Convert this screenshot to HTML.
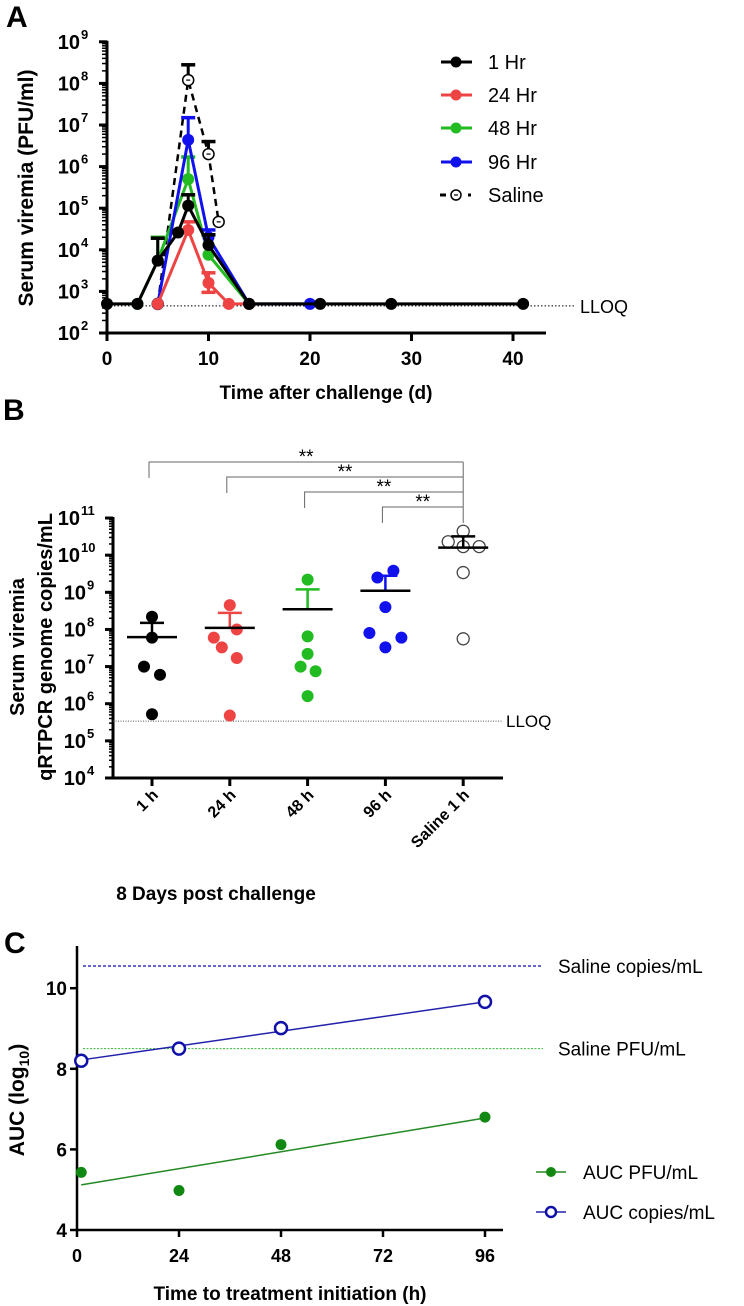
<!DOCTYPE html>
<html><head><meta charset="utf-8">
<style>
html,body{margin:0;padding:0;background:#fff;}
svg{display:block;font-family:"Liberation Sans",Arial,sans-serif;}
</style></head>
<body>
<svg id="fig" width="744" height="1306" viewBox="0 0 744 1306" xmlns="http://www.w3.org/2000/svg">
<g id="pa"></g>
<g id="pb"></g>
<g id="pc"></g>
</svg>
<script>
// ---------- Panel A data ----------
const aSeriesNames = ["1 Hr","24 Hr","48 Hr","96 Hr","Saline"];
const aColors = ["#000000","#ee4444","#22bb22","#1111ee","#000000"];
const aDays1 = [0,3,5,7,8,10,14,21,28,41];
const aVals1 = [500,500,5500,26000,115000,13000,500,500,500,500];
const aErr1  = [null,null,19000,null,210000,23000,null,null,null,null];
const aDays24 = [5,8,10,12,14];
const aVals24 = [500,30000,1600,500,500];
const aErr24  = [null,47000,2800,null,null];
const aDays48 = [3,5,8,10,14];
const aVals48 = [500,5500,500000,7600,500];
const aErr48  = [null,20000,1700000,null,null];
const aDays96 = [5,8,10,14,20];
const aVals96 = [500,4400000,20000,500,500];
const aErr96  = [null,15000000,30000,null,null];
const aDaysS = [5,8,10,11];
const aValsS = [500,120000000,2000000,47000];
const aErrS  = [null,280000000,4000000,null];
const aXTicks = [0,10,20,30,40];
const aYExp = [2,3,4,5,6,7,8,9];
const aLLOQ = 450;

// ---------- Panel B data ----------
const bCats = ["1 h","24 h","48 h","96 h","Saline 1 h"];
const bColors = ["#000000","#ee4444","#22bb22","#1111ee","#000000"];
const bPts = [
 [2.2e8,6e7,1e7,6e6,5.2e5],
 [4.5e8,1e8,6e7,3.3e7,1.7e7,4.8e5],
 [2.2e9,6.5e7,2.2e7,1e7,7.5e6,1.6e6],
 [3.8e9,2.5e9,4e8,8e7,6e7,3.3e7],
 [4.4e10,2.3e10,1.7e10,1.7e10,3.4e9,5.6e7]
];
const bJit = [[0,0,-8,8,0],[0,7,-16,-8,7,0],[0,0,0,-7,8,0],[8,-8,0,-16,16,0],[0,-15,0,16,0,0]];
const bMeans = [6.2e7,1.1e8,3.5e8,1.1e9,1.6e10];
const bSEMTop = [1.5e8,2.8e8,1.2e9,2.8e9,3.2e10];
const bYExp = [4,5,6,7,8,9,10,11];
const bLLOQ = 3.4e5;
const bSig = [0,1,2,3];

// ---------- Panel C data ----------
const cHours = [1,24,48,96];
const cPFU = [5.43,4.98,6.12,6.8];
const cCopies = [8.2,8.5,9.01,9.66];
const cPFUfit = [5.12,6.78];
const cCopiesFit = [8.22,9.66];
const cSalineCopies = 10.55;
const cSalinePFU = 8.5;
const cXTicks = [0,24,48,72,96];
const cYTicks = [4,6,8,10];

const NS="http://www.w3.org/2000/svg";
function mk(parent,tag,attrs,text){
  const e=document.createElementNS(NS,tag);
  for(const k in attrs) e.setAttribute(k,attrs[k]);
  if(text!==undefined) e.textContent=text;
  parent.appendChild(e); return e;
}
const pa=document.getElementById('pa'), pb=document.getElementById('pb'), pc=document.getElementById('pc');

// ================= Panel A =================
const xA=d=>107+d*10.15;
const yA=v=>333-(Math.log10(v)-2)*41.6;
let t=mk(pa,'text',{x:6,y:27,'font-size':30,'font-weight':'bold'},'A');


t=mk(pa,'text',{x:0,y:0,'font-size':21,'font-weight':'bold','text-anchor':'middle',transform:'translate(33,188) rotate(-90)'},'Serum viremia (PFU/ml)');


t=mk(pa,'text',{x:326,y:399,'font-size':19,'font-weight':'bold','text-anchor':'middle'},'Time after challenge (d)');


let ax=mk(pa,'g',{stroke:'#000','stroke-width':3});


mk(ax,'line',{x1:107,y1:yA(1e9)-1,x2:107,y2:334.5});
mk(ax,'line',{x1:105.5,y1:333,x2:546,y2:333});
aXTicks.forEach(d=>{
  mk(ax,'line',{x1:xA(d),y1:333,x2:xA(d),y2:341});
  const tl=mk(pa,'text',{x:xA(d),y:365,'font-size':19,'font-weight':'bold','text-anchor':'middle'},String(d));
  
  
});
aYExp.forEach((e,i)=>{
  const y=yA(Math.pow(10,e));
  mk(ax,'line',{x1:99,y1:y,x2:107,y2:y});
  if(i<aYExp.length-1){for(let m=2;m<10;m++){const ym=yA(m*Math.pow(10,e));mk(ax,'line',{x1:102,y1:ym,x2:107,y2:ym,'stroke-width':1.5});}}
  const g=mk(pa,'text',{x:80,y:y+7,'font-size':20,'font-weight':'bold','text-anchor':'end'},'10');
  
  
  mk(pa,'text',{x:81,y:y-3,'font-size':13,'font-weight':'bold'},String(e));
});
let ll=mk(pa,'line',{x1:107,y1:yA(aLLOQ),x2:574,y2:yA(aLLOQ),stroke:'#000','stroke-width':1,'stroke-dasharray':'1.5,2'});


t=mk(pa,'text',{x:580,y:yA(aLLOQ)+7,'font-size':18},'LLOQ');



function seriesA(days,vals,errs,color,name,dashed,open){
  const g=mk(pa,'g',{});
  
  
  const pts=days.map((d,i)=>xA(d)+','+yA(vals[i])).join(' ');
  mk(g,'polyline',{points:pts,fill:'none',stroke:color,'stroke-width':dashed?2.5:3,'stroke-dasharray':dashed?'7,5':'none'});
  days.forEach((d,i)=>{
    if(errs[i]){
      const x=xA(d);
      mk(g,'line',{x1:x,y1:yA(vals[i]),x2:x,y2:yA(errs[i]),stroke:color,'stroke-width':3});
      mk(g,'line',{x1:x-7,y1:yA(errs[i]),x2:x+7,y2:yA(errs[i]),stroke:color,'stroke-width':3.5});
    }
  });
  days.forEach((d,i)=>{
    let c;
    if(open){
      c=mk(g,'circle',{cx:xA(d),cy:yA(vals[i]),r:5.5,fill:'#fff',stroke:color,'stroke-width':1.5});
      mk(g,'line',{x1:xA(d)-2,y1:yA(vals[i]),x2:xA(d)+2,y2:yA(vals[i]),stroke:color,'stroke-width':1.2});
    } else c=mk(g,'circle',{cx:xA(d),cy:yA(vals[i]),r:6,fill:color});
    
    
  });
}
seriesA(aDaysS,aValsS,aErrS,'#000','saline',true,true);
seriesA(aDays48,aVals48,aErr48,aColors[2],'48hr');
seriesA(aDays96,aVals96,aErr96,aColors[3],'96hr');
seriesA(aDays24,aVals24,aErr24,aColors[1],'24hr');
mk(pa,'line',{x1:xA(10),y1:yA(aVals24[2]),x2:xA(10),y2:yA(950),stroke:aColors[1],'stroke-width':3});
mk(pa,'line',{x1:xA(10)-7,y1:yA(950),x2:xA(10)+7,y2:yA(950),stroke:aColors[1],'stroke-width':3.5});
seriesA(aDays1,aVals1,aErr1,'#000','1hr');
const legY=[62,95,128,162,195];
aSeriesNames.forEach((n,i)=>{
  const g=mk(pa,'g',{});
  
  
  if(i<4){
    mk(g,'line',{x1:441,y1:legY[i],x2:472,y2:legY[i],stroke:aColors[i],'stroke-width':3});
    mk(g,'circle',{cx:456,cy:legY[i],r:5.5,fill:aColors[i]});
  } else {
    mk(g,'line',{x1:440,y1:legY[i],x2:446,y2:legY[i],stroke:'#000','stroke-width':3});
    mk(g,'circle',{cx:456,cy:legY[i],r:5,fill:'#fff',stroke:'#000','stroke-width':1.5});
    mk(g,'line',{x1:454,y1:legY[i],x2:458,y2:legY[i],stroke:'#000','stroke-width':1.2});
    mk(g,'line',{x1:468,y1:legY[i],x2:471,y2:legY[i],stroke:'#000','stroke-width':3});
  }
  mk(g,'text',{x:488,y:legY[i]+7,'font-size':20},n);
});

// ================= Panel B =================
const xB=i=>152+i*77.8;
const yB=v=>778-(Math.log10(v)-4)*37.14;
t=mk(pb,'text',{x:3,y:420,'font-size':30,'font-weight':'bold'},'B');


t=mk(pb,'text',{x:0,y:0,'font-size':20,'font-weight':'bold','text-anchor':'middle',transform:'translate(24,647) rotate(-90)'},'Serum viremia');


t=mk(pb,'text',{x:0,y:0,'font-size':20,'font-weight':'bold','text-anchor':'middle',transform:'translate(52,647) rotate(-90)'},'qRTPCR genome copies/mL');


t=mk(pb,'text',{x:216,y:900,'font-size':19,'font-weight':'bold','text-anchor':'middle'},'8 Days post challenge');


ax=mk(pb,'g',{stroke:'#000','stroke-width':3});


mk(ax,'line',{x1:113,y1:yB(1e11)-1,x2:113,y2:779.5});
mk(ax,'line',{x1:111.5,y1:778,x2:503,y2:778});
bYExp.forEach((e,i)=>{
  const y=yB(Math.pow(10,e));
  mk(ax,'line',{x1:105,y1:y,x2:113,y2:y});
  if(i<bYExp.length-1){for(let m=2;m<10;m++){const ym=yB(m*Math.pow(10,e));mk(ax,'line',{x1:109,y1:ym,x2:113,y2:ym,'stroke-width':1.5});}}
  const g=mk(pb,'text',{x:e>=10?80:86,y:y+7,'font-size':20,'font-weight':'bold','text-anchor':'end'},'10');
  
  
  mk(pb,'text',{x:e>=10?81:87,y:y-3,'font-size':13,'font-weight':'bold'},String(e));
});
bCats.forEach((c,i)=>{
  mk(ax,'line',{x1:xB(i),y1:778,x2:xB(i),y2:786});
  const tl=mk(pb,'text',{x:0,y:0,'font-size':16,'font-weight':'bold','text-anchor':'end',transform:'translate('+(xB(i)+7)+',796) rotate(-45)'},c);
  
  
});
ll=mk(pb,'line',{x1:113,y1:yB(bLLOQ),x2:503,y2:yB(bLLOQ),stroke:'#555','stroke-width':1,'stroke-dasharray':'1,1.5'});


t=mk(pb,'text',{x:506,y:yB(bLLOQ)+6,'font-size':17},'LLOQ');


const brY=[462,477,492,507];
bSig.forEach((gi,k)=>{
  const g=mk(pb,'g',{stroke:'#666','stroke-width':1,fill:'none'});
  
  
  const xl=xB(gi)-3, xr=xB(4);
  mk(g,'polyline',{points:xl+','+(brY[k]+16)+' '+xl+','+brY[k]+' '+xr+','+brY[k]});
  const s=mk(pb,'text',{x:(xl+xr)/2,y:brY[k]+1,'font-size':19,'text-anchor':'middle'},'**');
  
  
});
mk(pb,'line',{x1:xB(4),y1:brY[0],x2:xB(4),y2:523,stroke:'#666','stroke-width':1});
bCats.forEach((c,i)=>{
  const g=mk(pb,'g',{});
  
  
  bPts[i].forEach((v,j)=>{
    let d;
    if(i===4) d=mk(g,'circle',{cx:xB(i)+bJit[i][j],cy:yB(v),r:6,fill:'#fff',stroke:'#444','stroke-width':1.3});
    else d=mk(g,'circle',{cx:xB(i)+bJit[i][j],cy:yB(v),r:6,fill:bColors[i]});
    
    
  });
  const ec=i===4?'#000':bColors[i];
  mk(g,'line',{x1:xB(i),y1:yB(bMeans[i]),x2:xB(i),y2:yB(bSEMTop[i]),stroke:ec,'stroke-width':2.5});
  mk(g,'line',{x1:xB(i)-12,y1:yB(bSEMTop[i]),x2:xB(i)+12,y2:yB(bSEMTop[i]),stroke:ec,'stroke-width':2.5});
  const m=mk(g,'line',{x1:xB(i)-25,y1:yB(bMeans[i]),x2:xB(i)+25,y2:yB(bMeans[i]),stroke:'#000','stroke-width':2.5});
  
  
});

// ================= Panel C =================
const xC=h=>77+h*4.25;
const yC=v=>1230-(v-4)*40.3;
t=mk(pc,'text',{x:4,y:953,'font-size':30,'font-weight':'bold'},'C');


t=mk(pc,'text',{x:0,y:0,'font-size':21,'font-weight':'bold','text-anchor':'middle',transform:'translate(24,1100) rotate(-90)'});


mk(t,'tspan',{},'AUC (log');
mk(t,'tspan',{'font-size':14,dy:5},'10');
mk(t,'tspan',{dy:-5},')');
t=mk(pc,'text',{x:290,y:1300,'font-size':19,'font-weight':'bold','text-anchor':'middle'},'Time to treatment initiation (h)');


ax=mk(pc,'g',{stroke:'#000','stroke-width':2.5});


mk(ax,'line',{x1:77,y1:946,x2:77,y2:1231});
mk(ax,'line',{x1:76,y1:1230,x2:503,y2:1230});
cXTicks.forEach(h=>{
  mk(ax,'line',{x1:xC(h),y1:1230,x2:xC(h),y2:1237});
  const tl=mk(pc,'text',{x:xC(h),y:1262,'font-size':18,'font-weight':'bold','text-anchor':'middle'},String(h));
  
  
});
cYTicks.forEach(v=>{
  mk(ax,'line',{x1:70,y1:yC(v),x2:77,y2:yC(v)});
  const tl=mk(pc,'text',{x:67,y:yC(v)+7,'font-size':19,'font-weight':'bold','text-anchor':'end'},String(v));
  
  
});
let rl=mk(pc,'line',{x1:83,y1:yC(cSalineCopies),x2:543,y2:yC(cSalineCopies),stroke:'#3333bb','stroke-width':1.5,'stroke-dasharray':'3,2'});


t=mk(pc,'text',{x:558,y:yC(cSalineCopies)+7,'font-size':19},'Saline copies/mL');


rl=mk(pc,'line',{x1:83,y1:yC(cSalinePFU),x2:543,y2:yC(cSalinePFU),stroke:'#33bb33','stroke-width':1,'stroke-dasharray':'2,1.5'});


t=mk(pc,'text',{x:558,y:yC(cSalinePFU)+7,'font-size':19},'Saline PFU/mL');


let f=mk(pc,'line',{x1:xC(cHours[0]),y1:yC(cPFUfit[0]),x2:xC(cHours[3]),y2:yC(cPFUfit[1]),stroke:'#228822','stroke-width':1.5});


f=mk(pc,'line',{x1:xC(cHours[0]),y1:yC(cCopiesFit[0]),x2:xC(cHours[3]),y2:yC(cCopiesFit[1]),stroke:'#2222aa','stroke-width':1.5});


cHours.forEach((h,i)=>{
  let p=mk(pc,'circle',{cx:xC(h),cy:yC(cPFU[i]),r:5.5,fill:'#118811'});
  
  
  p=mk(pc,'circle',{cx:xC(h),cy:yC(cCopies[i]),r:6,fill:'#fff',stroke:'#1111aa','stroke-width':2.5});
  
  
});
let lg=mk(pc,'g',{});


mk(lg,'line',{x1:536,y1:1172,x2:566,y2:1172,stroke:'#228822','stroke-width':1.5});
mk(lg,'circle',{cx:551,cy:1172,r:5,fill:'#118811'});
mk(lg,'text',{x:583,y:1179,'font-size':19},'AUC PFU/mL');
lg=mk(pc,'g',{});


mk(lg,'line',{x1:536,y1:1212,x2:566,y2:1212,stroke:'#2222aa','stroke-width':1.5});
mk(lg,'circle',{cx:551,cy:1212,r:5,fill:'#fff',stroke:'#1111aa','stroke-width':2.5});
mk(lg,'text',{x:583,y:1219,'font-size':19},'AUC copies/mL');
</script>
</body></html>
